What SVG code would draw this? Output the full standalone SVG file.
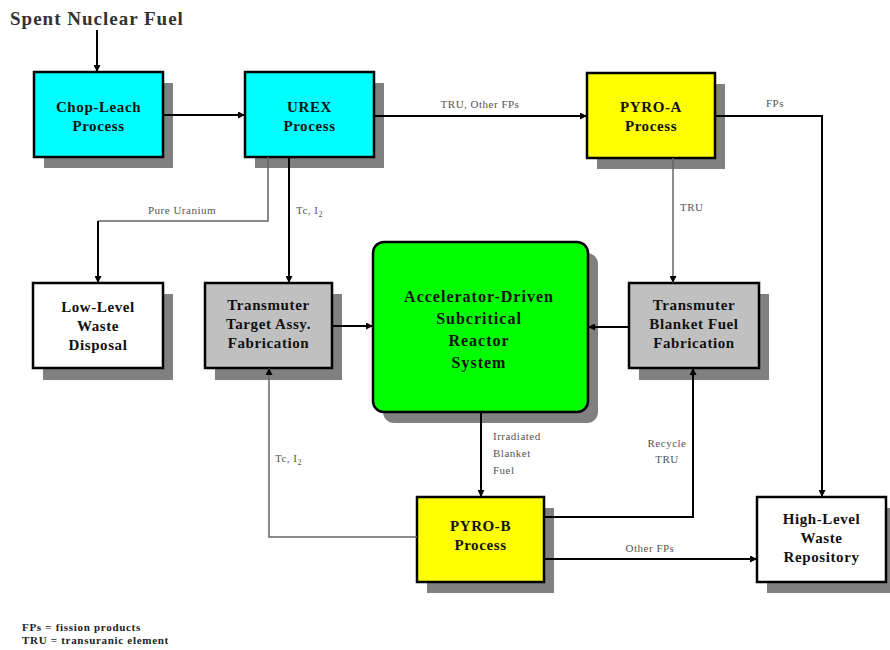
<svg xmlns="http://www.w3.org/2000/svg" width="890" height="650" viewBox="0 0 890 650">
<defs>
<marker id="ah" viewBox="0 0 10 10" refX="10" refY="5" markerWidth="7" markerHeight="7" markerUnits="userSpaceOnUse" orient="auto"><path d="M0,0 L10,5 L0,10 z" fill="#000"/></marker>
<style>
.box{stroke:#000;stroke-width:2.5}
.sh{fill:#808080}
.t{font-family:"Liberation Serif",serif;font-weight:bold;font-size:15px;letter-spacing:0.6px;fill:#111;text-anchor:middle}
.big{font-size:16px;letter-spacing:1px}
.lbl{font-family:"Liberation Serif",serif;font-size:11px;letter-spacing:0.5px;fill:#555}
.c{fill:none;stroke:#000;stroke-width:2}
.cg{fill:none;stroke:#666;stroke-width:1.5}
.leg{font-family:"Liberation Serif",serif;font-weight:bold;font-size:11px;letter-spacing:0.7px;fill:#222}
</style>
</defs>
<rect width="890" height="650" fill="#fff"/>
<text x="10" y="25" style="font-family:'Liberation Serif',serif;font-weight:bold;font-size:19px;letter-spacing:1px;fill:#333">Spent Nuclear Fuel</text>

<g id="chop-leach">
<rect class="sh" x="44" y="83" width="129" height="85"/>
<rect class="box" x="34" y="72" width="129" height="85" fill="#00ffff"/>
<text class="t" x="98.5" y="112">Chop-Leach</text>
<text class="t" x="98.5" y="131">Process</text>
</g>
<g id="urex">
<rect class="sh" x="255" y="83" width="129" height="85"/>
<rect class="box" x="245" y="72" width="129" height="85" fill="#00ffff"/>
<text class="t" x="309.5" y="112">UREX</text>
<text class="t" x="309.5" y="131">Process</text>
</g>
<g id="pyro-a">
<rect class="sh" x="597" y="84" width="128" height="85"/>
<rect class="box" x="587" y="73" width="128" height="85" fill="#ffff00"/>
<text class="t" x="651" y="112">PYRO-A</text>
<text class="t" x="651" y="131">Process</text>
</g>
<g id="low-level">
<rect class="sh" x="43" y="294" width="130" height="86"/>
<rect class="box" x="33" y="283" width="130" height="85" fill="#fff"/>
<text class="t" x="98" y="312">Low-Level</text>
<text class="t" x="98" y="331">Waste</text>
<text class="t" x="98" y="350">Disposal</text>
</g>
<g id="target-fab">
<rect class="sh" x="215" y="294" width="127" height="86"/>
<rect class="box" x="205" y="283" width="127" height="85" fill="#c0c0c0"/>
<text class="t" x="268.5" y="310">Transmuter</text>
<text class="t" x="268.5" y="329">Target Assy.</text>
<text class="t" x="268.5" y="348">Fabrication</text>
</g>
<g id="ads">
<rect class="sh" x="383" y="253" width="215" height="170" rx="11"/>
<rect class="box" x="373" y="242" width="215" height="170" rx="11" fill="#00ff00"/>
<text class="t big" x="479" y="302">Accelerator-Driven</text>
<text class="t big" x="479" y="324">Subcritical</text>
<text class="t big" x="479" y="346">Reactor</text>
<text class="t big" x="479" y="368">System</text>
</g>
<g id="blanket-fab">
<rect class="sh" x="639" y="294" width="130" height="86"/>
<rect class="box" x="629" y="283" width="130" height="85" fill="#c0c0c0"/>
<text class="t" x="694" y="310">Transmuter</text>
<text class="t" x="694" y="329">Blanket Fuel</text>
<text class="t" x="694" y="348">Fabrication</text>
</g>
<g id="pyro-b">
<rect class="sh" x="427" y="508" width="127" height="85"/>
<rect class="box" x="417" y="497" width="127" height="85" fill="#ffff00"/>
<text class="t" x="480.5" y="531">PYRO-B</text>
<text class="t" x="480.5" y="550">Process</text>
</g>
<g id="high-level">
<rect class="sh" x="767" y="508" width="123" height="85"/>
<rect class="box" x="757" y="497" width="129" height="85" fill="#fff"/>
<text class="t" x="821.5" y="524">High-Level</text>
<text class="t" x="821.5" y="543">Waste</text>
<text class="t" x="821.5" y="562">Repository</text>
</g>

<g id="connectors">
<path class="c" d="M97,30 V72" marker-end="url(#ah)"/>
<path class="c" d="M163,115 H245" marker-end="url(#ah)"/>
<path class="c" d="M374,116 H587" marker-end="url(#ah)"/>
<text class="lbl" x="480" y="108" text-anchor="middle">TRU, Other FPs</text>
<path class="c" d="M715,116 H822 V497" marker-end="url(#ah)"/>
<text class="lbl" x="775" y="107" text-anchor="middle">FPs</text>
<path class="cg" d="M673,158 V283" marker-end="url(#ah)"/>
<text class="lbl" x="680" y="211">TRU</text>
<path class="cg" d="M268,157 V221 H98"/>
<path class="c" d="M98,221 V283" marker-end="url(#ah)"/>
<text class="lbl" x="182" y="214" text-anchor="middle">Pure Uranium</text>
<path class="c" d="M289,157 V283" marker-end="url(#ah)"/>
<text class="lbl" x="296" y="214">Tc, I<tspan font-size="8" dy="3">2</tspan></text>
<path class="c" d="M332,326 H373" stroke-width="1.5" marker-end="url(#ah)"/>
<path class="c" d="M629,327 H588" stroke-width="1.5" marker-end="url(#ah)"/>
<path class="c" d="M481,412 V497" marker-end="url(#ah)"/>
<text class="lbl" x="493" y="440">Irradiated</text>
<text class="lbl" x="493" y="457">Blanket</text>
<text class="lbl" x="493" y="474">Fuel</text>
<path class="cg" d="M417,537 H269 V368" marker-end="url(#ah)"/>
<text class="lbl" x="275" y="462">Tc, I<tspan font-size="8" dy="3">2</tspan></text>
<path class="c" d="M544,517 H693 V368" marker-end="url(#ah)"/>
<text class="lbl" x="667" y="447" text-anchor="middle">Recycle</text>
<text class="lbl" x="667" y="463" text-anchor="middle">TRU</text>
<path class="c" d="M544,559 H757" marker-end="url(#ah)"/>
<text class="lbl" x="650" y="552" text-anchor="middle">Other FPs</text>
</g>

<text class="leg" x="22" y="631">FPs = fission products</text>
<text class="leg" x="22" y="644">TRU = transuranic element</text>
</svg>
